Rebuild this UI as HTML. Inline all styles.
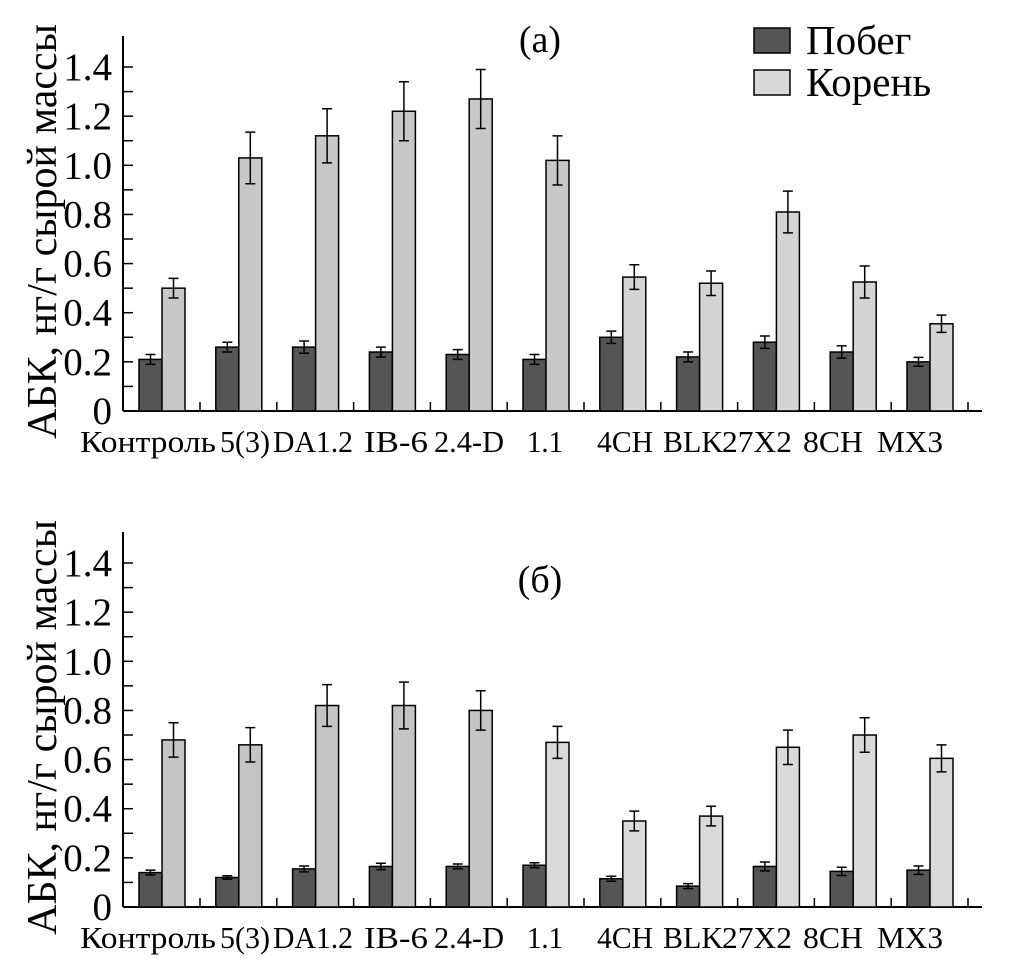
<!DOCTYPE html>
<html><head><meta charset="utf-8"><style>body{margin:0;background:#fff}svg{display:block}text{font-family:"Liberation Serif","DejaVu Serif",serif;fill:#000}</style></head>
<body>
<svg id="c" width="1010" height="976"></svg>
<script>
const categories=["Контроль","5(3)","DA1.2","IB-6","2.4-D","1.1","4CH","BLK","27X2","8CH","MX3"];
const yTicks=[0,0.2,0.4,0.6,0.8,1.0,1.2,1.4];
const yTickLabels=["0","0.2","0.4","0.6","0.8","1.0","1.2","1.4"];
const shootA=[0.21,0.26,0.26,0.24,0.23,0.21,0.30,0.22,0.28,0.24,0.20];
const shootAErr=[0.02,0.02,0.025,0.02,0.02,0.02,0.025,0.02,0.025,0.025,0.018];
const rootA=[0.50,1.03,1.12,1.22,1.27,1.02,0.545,0.52,0.81,0.525,0.355];
const rootAErr=[0.04,0.105,0.11,0.12,0.12,0.10,0.05,0.05,0.085,0.065,0.035];
const shootB=[0.14,0.12,0.155,0.165,0.165,0.17,0.115,0.085,0.165,0.145,0.15];
const shootBErr=[0.01,0.007,0.012,0.013,0.01,0.01,0.01,0.01,0.018,0.017,0.017];
const rootB=[0.68,0.66,0.82,0.82,0.80,0.67,0.35,0.37,0.65,0.70,0.605];
const rootBErr=[0.07,0.07,0.085,0.095,0.08,0.065,0.04,0.04,0.07,0.07,0.055];
const labelCenters=[148,245,313,396,469,545,625,693,757,833,910];
const labelWidths=[136,50,80,64,70,36,56,60,70,60,66];
const NS="http://www.w3.org/2000/svg",svg=document.getElementById('c');
function mk(t,a,p){const e=document.createElementNS(NS,t);for(const k in a)e.setAttribute(k,a[k]);(p||svg).appendChild(e);return e;}
function panel(base,top,shoot,sErr,root,rErr,title,rootColors,id){
  const g=mk('g',{});
  
  
  const ax=123,scale=245.7;
  const y=v=>base-v*scale;
  const xc=i=>162+76.8*i;
  mk('line',{x1:ax,y1:top,x2:ax,y2:base,stroke:'#000','stroke-width':2},g);
  mk('line',{x1:ax,y1:base,x2:982,y2:base,stroke:'#000','stroke-width':2},g);
  for(let k=1;k<=14;k++){mk('line',{x1:ax,y1:y(k/10),x2:ax+10,y2:y(k/10),stroke:'#000','stroke-width':1.5},g);}
  yTicks.forEach((v,i)=>{const t=mk('text',{x:112,y:y(v)+13,'text-anchor':'end','font-size':39},g);t.textContent=yTickLabels[i];
    
    });
  for(let i=0;i<categories.length;i++){
    mk('line',{x1:xc(i)+38,y1:base,x2:xc(i)+38,y2:base-9,stroke:'#000','stroke-width':1.5},g);
    const t=mk('text',{x:labelCenters[i]-labelWidths[i]/2,y:base+41,'font-size':31,textLength:labelWidths[i],lengthAdjust:'spacingAndGlyphs'},g);t.textContent=categories[i];
    
    
    const b1=mk('rect',{x:xc(i)-23,y:y(shoot[i]),width:23,height:shoot[i]*scale,fill:'#555',stroke:'#000','stroke-width':1.5},g);
    
    
    const b2=mk('rect',{x:xc(i),y:y(root[i]),width:23,height:root[i]*scale,fill:rootColors[i],stroke:'#000','stroke-width':1.5},g);
    
    
    [[xc(i)-11.5,shoot[i],sErr[i]],[xc(i)+11.5,root[i],rErr[i]]].forEach(([cx,v,e])=>{
      mk('path',{d:`M${cx},${y(v+e)}V${y(v-e)}M${cx-5},${y(v+e)}H${cx+5}M${cx-5},${y(v-e)}H${cx+5}`,stroke:'#000','stroke-width':1.5,fill:'none'},g);
    });
  }
  const yl=mk('text',{x:0,y:0,'text-anchor':'middle','font-size':42,transform:`translate(56,${(base+top)/2+8}) rotate(-90)`},g);
  yl.textContent='АБК, нг/г сырой массы';
  
  
  const tt=mk('text',{x:540,y:title[1],'text-anchor':'middle','font-size':38},g);tt.textContent=title[0];
  
  
}
const cA=categories.map((c,i)=>i<6?'#c8c8c8':'#d4d4d4');
const cB=categories.map((c,i)=>i<5?'#c4c4c4':'#dadada');
panel(411,36,shootA,shootAErr,rootA,rootAErr,['(а)',52],cA,'a');
panel(907,532,shootB,shootBErr,rootB,rootBErr,['(б)',592],cB,'b');
const lg=mk('g',{});


mk('rect',{x:754,y:28,width:36,height:25,fill:'#555',stroke:'#000','stroke-width':1.5},lg);
mk('rect',{x:754,y:70,width:36,height:25,fill:'#d8d8d8',stroke:'#000','stroke-width':1.5},lg);
const l1=mk('text',{x:806,y:54,'font-size':41},lg);l1.textContent='Побег';


const l2=mk('text',{x:806,y:96,'font-size':41},lg);l2.textContent='Корень';


</script>
</body></html>
